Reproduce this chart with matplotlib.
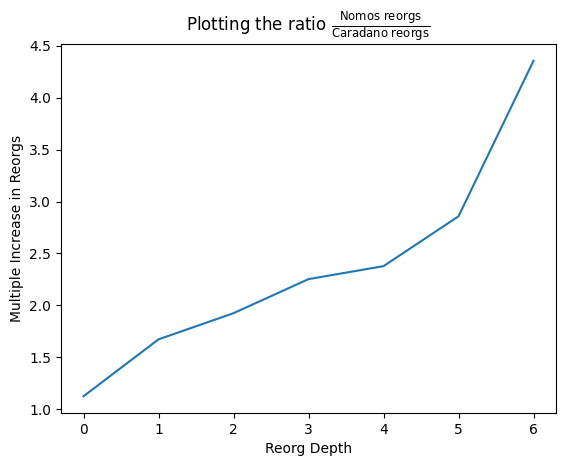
import matplotlib
matplotlib.use("Agg")
from matplotlib import pyplot as plt

depths = [0, 1, 2, 3, 4, 5, 6]
ratios = [1.125, 1.673, 1.925, 2.253, 2.378, 2.858, 4.356]

fig = plt.figure(figsize=(5.67, 4.66), dpi=100)
plt.plot(depths, ratios)
plt.xlabel("Reorg Depth")
plt.ylabel("Multiple Increase in Reorgs")
plt.title(r"Plotting the ratio $\frac{\mathrm{Nomos\ reorgs}}{\mathrm{Caradano\ reorgs}}$")
plt.subplots_adjust(left=0.1076, right=0.9806, top=0.9056, bottom=0.1137)
plt.savefig("out.png", dpi=100)
